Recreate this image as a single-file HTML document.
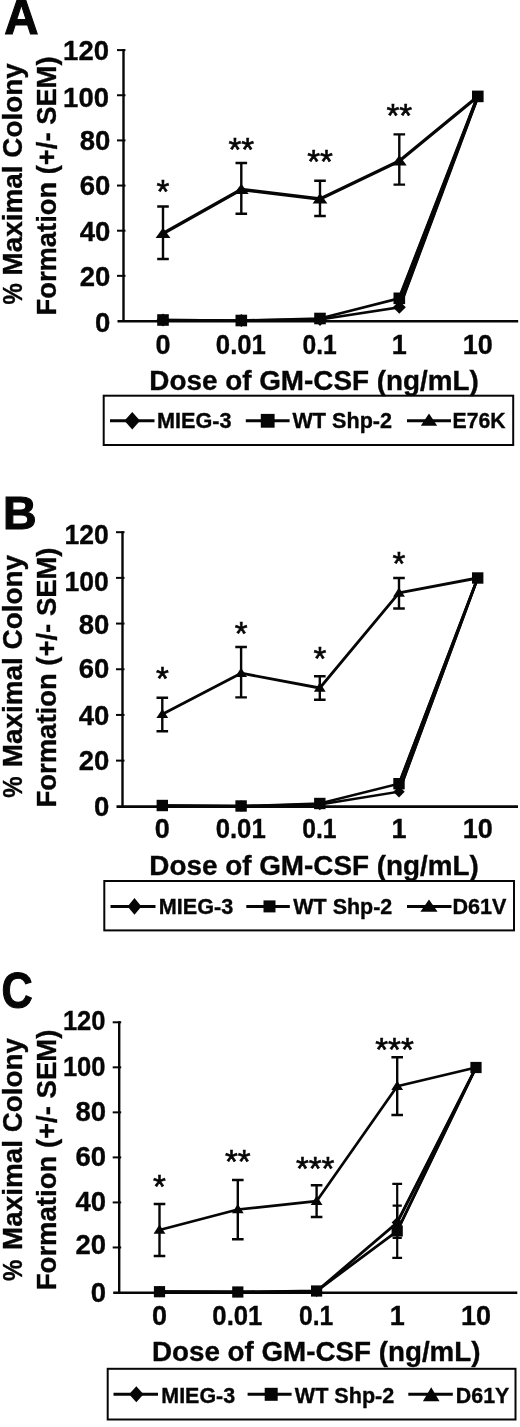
<!DOCTYPE html>
<html><head><meta charset="utf-8"><title>Figure</title>
<style>
html,body{margin:0;padding:0;background:#fff;}
body{width:520px;height:1427px;overflow:hidden;}
svg{display:block;will-change:transform;}
svg text{font-family:"Liberation Sans", sans-serif;font-weight:bold;fill:#060606;stroke:#060606;stroke-width:0.35px;}
</style></head><body>
<svg width="520" height="1427" viewBox="0 0 520 1427" fill="#060606">
<rect x="0" y="0" width="520" height="1427" fill="#fff"/>
<g id="chartA">
<text x="4.2" y="34.2" font-size="49.5" text-anchor="start" textLength="34.3" lengthAdjust="spacingAndGlyphs" style="stroke-width:1.1px">A</text>
<text transform="translate(22.3,304.6) rotate(-90)" font-size="27" textLength="21.3" lengthAdjust="spacingAndGlyphs">%</text>
<text transform="translate(22.3,275.4) rotate(-90)" font-size="27" textLength="212.1" lengthAdjust="spacingAndGlyphs">Maximal Colony</text>
<text transform="translate(56,315.5) rotate(-90)" font-size="27" textLength="259" lengthAdjust="spacingAndGlyphs">Formation (+/- SEM)</text>
<path d="M123.5,49.1 V322" stroke="#060606" stroke-width="2.4" fill="none"/>
<path d="M117.5,321.3 H518.2" stroke="#060606" stroke-width="2.6" fill="none"/>
<text x="110.3" y="332.1" font-size="27.5" text-anchor="end">0</text>
<path d="M117.0,275.85 H125.5" stroke="#060606" stroke-width="2" fill="none"/>
<text x="110.3" y="286.45" font-size="27.5" text-anchor="end">20</text>
<path d="M117.0,230.7 H125.5" stroke="#060606" stroke-width="2" fill="none"/>
<text x="110.3" y="240.6" font-size="27.5" text-anchor="end">40</text>
<path d="M117.0,185.55 H125.5" stroke="#060606" stroke-width="2" fill="none"/>
<text x="110.3" y="195.15" font-size="27.5" text-anchor="end">60</text>
<path d="M117.0,140.4 H125.5" stroke="#060606" stroke-width="2" fill="none"/>
<text x="110.3" y="150.0" font-size="27.5" text-anchor="end">80</text>
<path d="M117.0,95.25 H125.5" stroke="#060606" stroke-width="2" fill="none"/>
<text x="109.0" y="106.6" font-size="27.5" text-anchor="end">100</text>
<path d="M117.0,50.10000000000002 H125.5" stroke="#060606" stroke-width="2" fill="none"/>
<text x="109.0" y="59.7" font-size="27.5" text-anchor="end">120</text>
<text x="163" y="353.9" font-size="27" text-anchor="middle">0</text>
<text x="240.9" y="353.9" font-size="27" text-anchor="middle" textLength="50.1" lengthAdjust="spacingAndGlyphs">0.01</text>
<text x="319.6" y="353.9" font-size="27" text-anchor="middle" textLength="34.3" lengthAdjust="spacingAndGlyphs">0.1</text>
<text x="399.3" y="353.9" font-size="27" text-anchor="middle">1</text>
<text x="477.8" y="353.9" font-size="27" text-anchor="middle">10</text>
<text x="149.3" y="389.6" font-size="27" text-anchor="start" textLength="329.5" lengthAdjust="spacingAndGlyphs">Dose of GM-CSF (ng/mL)</text>
<polyline fill="none" stroke="#060606" stroke-width="2.6" stroke-linejoin="miter" points="163,320 241.3,320.5 320,319.5 399.3,307.3 477.8,96.4"/>
<polyline fill="none" stroke="#060606" stroke-width="2.6" stroke-linejoin="miter" points="163,320 241.3,320.5 320,318.5 399.3,298.3 477.8,96.4"/>
<path d="M399.3,307.3 L477.8,96.4" stroke="#060606" stroke-width="3.3" fill="none"/>
<path d="M399.3,298.3 L477.8,96.4" stroke="#060606" stroke-width="3.3" fill="none"/>
<path d="M156.5,320 L163,313.5 L169.5,320 L163,326.5Z"/>
<path d="M234.8,320.5 L241.3,314.0 L247.8,320.5 L241.3,327.0Z"/>
<path d="M313.5,319.5 L320,313.0 L326.5,319.5 L320,326.0Z"/>
<path d="M392.8,307.3 L399.3,300.8 L405.8,307.3 L399.3,313.8Z"/>
<path d="M472.6,96.4 L477.8,91.2 L483.0,96.4 L477.8,101.60000000000001Z"/>
<rect x="157.2" y="314.2" width="11.6" height="11.6"/>
<rect x="235.5" y="314.7" width="11.6" height="11.6"/>
<rect x="314.2" y="312.7" width="11.6" height="11.6"/>
<rect x="393.5" y="292.5" width="11.6" height="11.6"/>
<rect x="472.0" y="90.60000000000001" width="11.6" height="11.6"/>
<polyline fill="none" stroke="#060606" stroke-width="3.3" stroke-linejoin="round" points="163,233.5 241.3,189.5 320,199 399.3,161 477.8,96.4"/>
<path d="M163,206.5 V259 M157.2,206.5 H168.8 M157.2,259 H168.8" stroke="#060606" stroke-width="2.4" fill="none"/>
<path d="M163,227.7 L170.4,237.9 L155.6,237.9Z"/>
<path d="M241.3,163 V213.8 M235.5,163 H247.10000000000002 M235.5,213.8 H247.10000000000002" stroke="#060606" stroke-width="2.4" fill="none"/>
<path d="M241.3,183.7 L248.70000000000002,193.9 L233.9,193.9Z"/>
<path d="M320,180.8 V216 M314.2,180.8 H325.8 M314.2,216 H325.8" stroke="#060606" stroke-width="2.4" fill="none"/>
<path d="M320,193.2 L327.4,203.4 L312.6,203.4Z"/>
<path d="M399.3,134.4 V184.6 M393.5,134.4 H405.1 M393.5,184.6 H405.1" stroke="#060606" stroke-width="2.4" fill="none"/>
<path d="M399.3,155.2 L406.7,165.4 L391.90000000000003,165.4Z"/>
<text x="163" y="203" font-size="33" text-anchor="middle" style="font-weight:normal;stroke-width:0.6px">*</text>
<text x="241.3" y="160.5" font-size="33" text-anchor="middle" style="font-weight:normal;stroke-width:0.6px">**</text>
<text x="320" y="173" font-size="33" text-anchor="middle" style="font-weight:normal;stroke-width:0.6px">**</text>
<text x="399.3" y="127" font-size="33" text-anchor="middle" style="font-weight:normal;stroke-width:0.6px">**</text>
<rect x="103.7" y="395.7" width="409.50000000000006" height="49.30000000000001" fill="none" stroke="#060606" stroke-width="2"/>
<path d="M110,420.8 H154.5" stroke="#060606" stroke-width="3" fill="none"/>
<path d="M124.45,420.8 L132.25,412.0 L140.05,420.8 L132.25,429.6Z"/>
<path d="M245.8,420.8 H289.6" stroke="#060606" stroke-width="3" fill="none"/>
<rect x="260.80000000000007" y="413.90000000000003" width="13.8" height="13.8"/>
<path d="M407,420.8 H451" stroke="#060606" stroke-width="3" fill="none"/>
<path d="M429.0,413.5 L437.2,425.8 L420.8,425.8Z"/>
<text x="157" y="428" font-size="21.5" text-anchor="start" textLength="74.5" lengthAdjust="spacingAndGlyphs">MIEG-3</text>
<text x="292.5" y="428" font-size="21.5" text-anchor="start" textLength="99.5" lengthAdjust="spacingAndGlyphs">WT Shp-2</text>
<text x="452.5" y="428" font-size="21.5" text-anchor="start" textLength="53" lengthAdjust="spacingAndGlyphs">E76K</text>
</g>
<g id="chartB">
<text x="2.9" y="528.8" font-size="46.5" text-anchor="start" style="stroke-width:1.1px">B</text>
<text transform="translate(22.3,797.7) rotate(-90)" font-size="27" textLength="21.3" lengthAdjust="spacingAndGlyphs">%</text>
<text transform="translate(22.3,767.2) rotate(-90)" font-size="27" textLength="212.3" lengthAdjust="spacingAndGlyphs">Maximal Colony</text>
<text transform="translate(56,807.5) rotate(-90)" font-size="27" textLength="260" lengthAdjust="spacingAndGlyphs">Formation (+/- SEM)</text>
<path d="M122.5,531.2 V807.3" stroke="#060606" stroke-width="2.4" fill="none"/>
<path d="M116.5,806.5999999999999 H518" stroke="#060606" stroke-width="2.6" fill="none"/>
<text x="109.3" y="815.9" font-size="27.5" text-anchor="end">0</text>
<path d="M116.0,760.6166666666667 H124.5" stroke="#060606" stroke-width="2" fill="none"/>
<text x="109.3" y="769.92" font-size="27.5" text-anchor="end">20</text>
<path d="M116.0,714.9333333333333 H124.5" stroke="#060606" stroke-width="2" fill="none"/>
<text x="109.3" y="724.53" font-size="27.5" text-anchor="end">40</text>
<path d="M116.0,669.25 H124.5" stroke="#060606" stroke-width="2" fill="none"/>
<text x="109.3" y="678.25" font-size="27.5" text-anchor="end">60</text>
<path d="M116.0,623.5666666666667 H124.5" stroke="#060606" stroke-width="2" fill="none"/>
<text x="109.3" y="634.17" font-size="27.5" text-anchor="end">80</text>
<path d="M116.0,577.8833333333334 H124.5" stroke="#060606" stroke-width="2" fill="none"/>
<text x="108.7" y="590.88" font-size="27.5" text-anchor="end" textLength="44.3" lengthAdjust="spacingAndGlyphs">100</text>
<path d="M116.0,532.2 H124.5" stroke="#060606" stroke-width="2" fill="none"/>
<text x="108.7" y="543.8" font-size="27.5" text-anchor="end" textLength="44.3" lengthAdjust="spacingAndGlyphs">120</text>
<text x="162.3" y="837.8" font-size="27" text-anchor="middle">0</text>
<text x="240.7" y="837.8" font-size="27" text-anchor="middle" textLength="50.1" lengthAdjust="spacingAndGlyphs">0.01</text>
<text x="319.40000000000003" y="837.8" font-size="27" text-anchor="middle" textLength="34.3" lengthAdjust="spacingAndGlyphs">0.1</text>
<text x="399" y="837.8" font-size="27" text-anchor="middle">1</text>
<text x="477.7" y="837.8" font-size="27" text-anchor="middle">10</text>
<text x="149.3" y="874.6" font-size="27" text-anchor="start" textLength="329.5" lengthAdjust="spacingAndGlyphs">Dose of GM-CSF (ng/mL)</text>
<polyline fill="none" stroke="#060606" stroke-width="2.4" stroke-linejoin="miter" points="162.3,805.5 241.1,806 319.8,804.5 399,791.7 477.7,578"/>
<polyline fill="none" stroke="#060606" stroke-width="2.4" stroke-linejoin="miter" points="162.3,805.5 241.1,806 319.8,803.5 399,783.7 477.7,578"/>
<path d="M399,791.7 L477.7,578" stroke="#060606" stroke-width="2.7" fill="none"/>
<path d="M399,783.7 L477.7,578" stroke="#060606" stroke-width="2.7" fill="none"/>
<path d="M156.60000000000002,805.5 L162.3,799.8 L168.0,805.5 L162.3,811.2Z"/>
<path d="M235.4,806 L241.1,800.3 L246.79999999999998,806 L241.1,811.7Z"/>
<path d="M314.1,804.5 L319.8,798.8 L325.5,804.5 L319.8,810.2Z"/>
<path d="M393.3,791.7 L399,786.0 L404.7,791.7 L399,797.4000000000001Z"/>
<path d="M472.5,578 L477.7,572.8 L482.9,578 L477.7,583.2Z"/>
<rect x="156.60000000000002" y="799.8" width="11.4" height="11.4"/>
<rect x="235.4" y="800.3" width="11.4" height="11.4"/>
<rect x="314.1" y="797.8" width="11.4" height="11.4"/>
<rect x="393.3" y="778.0" width="11.4" height="11.4"/>
<rect x="472.0" y="572.3" width="11.4" height="11.4"/>
<polyline fill="none" stroke="#060606" stroke-width="2.8" stroke-linejoin="round" points="162.3,714.3 241.1,673.2 319.8,688 399,592.9 477.7,578"/>
<path d="M162.3,697.8 V731.2 M156.5,697.8 H168.10000000000002 M156.5,731.2 H168.10000000000002" stroke="#060606" stroke-width="2.4" fill="none"/>
<path d="M162.3,708.9 L168.20000000000002,718.0999999999999 L156.4,718.0999999999999Z"/>
<path d="M241.1,647 V697.4 M235.29999999999998,647 H246.9 M235.29999999999998,697.4 H246.9" stroke="#060606" stroke-width="2.4" fill="none"/>
<path d="M241.1,667.8000000000001 L247.0,677.0 L235.2,677.0Z"/>
<path d="M319.8,676.2 V699.7 M314.0,676.2 H325.6 M314.0,699.7 H325.6" stroke="#060606" stroke-width="2.4" fill="none"/>
<path d="M319.8,682.6 L325.7,691.8 L313.90000000000003,691.8Z"/>
<path d="M399,578 V608.5 M393.2,578 H404.8 M393.2,608.5 H404.8" stroke="#060606" stroke-width="2.4" fill="none"/>
<path d="M399,587.5 L404.9,596.6999999999999 L393.1,596.6999999999999Z"/>
<text x="162.3" y="690" font-size="33" text-anchor="middle" style="font-weight:normal;stroke-width:0.6px">*</text>
<text x="241.1" y="644.5" font-size="33" text-anchor="middle" style="font-weight:normal;stroke-width:0.6px">*</text>
<text x="319.8" y="670" font-size="33" text-anchor="middle" style="font-weight:normal;stroke-width:0.6px">*</text>
<text x="399" y="574.5" font-size="33" text-anchor="middle" style="font-weight:normal;stroke-width:0.6px">*</text>
<rect x="104.3" y="881" width="409.7" height="49.39999999999998" fill="none" stroke="#060606" stroke-width="2"/>
<path d="M110.5,906.4 H155.5" stroke="#060606" stroke-width="3" fill="none"/>
<path d="M127.6,906.4 L134.5,898.1 L141.4,906.4 L134.5,914.6999999999999Z"/>
<path d="M246.3,906.4 H289.8" stroke="#060606" stroke-width="3" fill="none"/>
<rect x="263.5" y="900.4" width="12.0" height="12.0"/>
<path d="M407,906.4 H451.5" stroke="#060606" stroke-width="3" fill="none"/>
<path d="M429,899.4 L437.6,911.8 L420.4,911.8Z"/>
<text x="158.8" y="913.6" font-size="21.5" text-anchor="start" textLength="74.5" lengthAdjust="spacingAndGlyphs">MIEG-3</text>
<text x="293.3" y="913.6" font-size="21.5" text-anchor="start" textLength="99" lengthAdjust="spacingAndGlyphs">WT Shp-2</text>
<text x="452.5" y="913.6" font-size="21.5" text-anchor="start" textLength="54" lengthAdjust="spacingAndGlyphs">D61V</text>
</g>
<g id="chartC">
<text x="1.5" y="1008.3" font-size="49.2" text-anchor="start" textLength="31.2" lengthAdjust="spacingAndGlyphs" style="stroke-width:1.1px">C</text>
<text transform="translate(22.3,1281.1) rotate(-90)" font-size="27" textLength="21.3" lengthAdjust="spacingAndGlyphs">%</text>
<text transform="translate(22.3,1249.9) rotate(-90)" font-size="27" textLength="211.9" lengthAdjust="spacingAndGlyphs">Maximal Colony</text>
<text transform="translate(56,1290.2) rotate(-90)" font-size="27" textLength="260.5" lengthAdjust="spacingAndGlyphs">Formation (+/- SEM)</text>
<path d="M119.2,1021.3 V1293.5" stroke="#060606" stroke-width="2.4" fill="none"/>
<path d="M113.2,1292.8 H517.3" stroke="#060606" stroke-width="2.6" fill="none"/>
<text x="106.0" y="1301.6" font-size="27.5" text-anchor="end">0</text>
<path d="M112.7,1247.4666666666667 H121.2" stroke="#060606" stroke-width="2" fill="none"/>
<text x="106.0" y="1254.47" font-size="27.5" text-anchor="end">20</text>
<path d="M112.7,1202.4333333333334 H121.2" stroke="#060606" stroke-width="2" fill="none"/>
<text x="106.0" y="1211.13" font-size="27.5" text-anchor="end">40</text>
<path d="M112.7,1157.4 H121.2" stroke="#060606" stroke-width="2" fill="none"/>
<text x="106.0" y="1166.0" font-size="27.5" text-anchor="end">60</text>
<path d="M112.7,1112.3666666666666 H121.2" stroke="#060606" stroke-width="2" fill="none"/>
<text x="106.0" y="1120.97" font-size="27.5" text-anchor="end">80</text>
<path d="M112.7,1067.3333333333333 H121.2" stroke="#060606" stroke-width="2" fill="none"/>
<text x="105.60000000000001" y="1076.03" font-size="27.5" text-anchor="end" textLength="42.7" lengthAdjust="spacingAndGlyphs">100</text>
<path d="M112.7,1022.3 H121.2" stroke="#060606" stroke-width="2" fill="none"/>
<text x="105.60000000000001" y="1030.2" font-size="27.5" text-anchor="end" textLength="42.7" lengthAdjust="spacingAndGlyphs">120</text>
<text x="159.5" y="1324.7" font-size="27" text-anchor="middle">0</text>
<text x="237.4" y="1324.7" font-size="27" text-anchor="middle" textLength="50.1" lengthAdjust="spacingAndGlyphs">0.01</text>
<text x="316.20000000000005" y="1324.7" font-size="27" text-anchor="middle" textLength="34.3" lengthAdjust="spacingAndGlyphs">0.1</text>
<text x="397.2" y="1324.7" font-size="27" text-anchor="middle">1</text>
<text x="476" y="1324.7" font-size="27" text-anchor="middle">10</text>
<text x="152" y="1361" font-size="27" text-anchor="start" textLength="328.5" lengthAdjust="spacingAndGlyphs">Dose of GM-CSF (ng/mL)</text>
<polyline fill="none" stroke="#060606" stroke-width="2.8" stroke-linejoin="miter" points="159.5,1291.7 237.8,1292 316.6,1291.3 397.2,1222.5 476,1067.5"/>
<polyline fill="none" stroke="#060606" stroke-width="2.8" stroke-linejoin="miter" points="159.5,1291.7 237.8,1292 316.6,1291 397.2,1231 476,1067.5"/>
<path d="M397.2,1222.5 L476,1067.5" stroke="#060606" stroke-width="2.2" fill="none"/>
<path d="M397.2,1231 L476,1067.5" stroke="#060606" stroke-width="2.2" fill="none"/>
<path d="M397.2,1183.8 V1257.8 M392.3,1183.8 H402.09999999999997 M392.3,1257.8 H402.09999999999997" stroke="#060606" stroke-width="2.2" fill="none"/>
<path d="M397.2,1205.6 V1238 M392.59999999999997,1205.6 H401.8 M392.59999999999997,1238 H401.8" stroke="#060606" stroke-width="2.2" fill="none"/>
<path d="M153.9,1291.7 L159.5,1286.1000000000001 L165.1,1291.7 L159.5,1297.3Z"/>
<path d="M232.20000000000002,1292 L237.8,1286.4 L243.4,1292 L237.8,1297.6Z"/>
<path d="M311.0,1291.3 L316.6,1285.7 L322.20000000000005,1291.3 L316.6,1296.8999999999999Z"/>
<path d="M391.59999999999997,1222.5 L397.2,1216.9 L402.8,1222.5 L397.2,1228.1Z"/>
<path d="M470.8,1067.5 L476,1062.3 L481.2,1067.5 L476,1072.7Z"/>
<rect x="153.9" y="1286.1000000000001" width="11.2" height="11.2"/>
<rect x="232.20000000000002" y="1286.4" width="11.2" height="11.2"/>
<rect x="311.0" y="1285.4" width="11.2" height="11.2"/>
<rect x="391.59999999999997" y="1225.4" width="11.2" height="11.2"/>
<rect x="470.4" y="1061.9" width="11.2" height="11.2"/>
<polyline fill="none" stroke="#060606" stroke-width="2.7" stroke-linejoin="round" points="159.5,1230 237.8,1209.5 316.6,1201.2 397.2,1086.2 476,1067.5"/>
<path d="M159.5,1204 V1256 M153.7,1204 H165.3 M153.7,1256 H165.3" stroke="#060606" stroke-width="2.4" fill="none"/>
<path d="M159.5,1224.6 L165.4,1233.8 L153.6,1233.8Z"/>
<path d="M237.8,1180 V1239.2 M232.0,1180 H243.60000000000002 M232.0,1239.2 H243.60000000000002" stroke="#060606" stroke-width="2.4" fill="none"/>
<path d="M237.8,1204.1 L243.70000000000002,1213.3 L231.9,1213.3Z"/>
<path d="M316.6,1185.2 V1217 M310.8,1185.2 H322.40000000000003 M310.8,1217 H322.40000000000003" stroke="#060606" stroke-width="2.4" fill="none"/>
<path d="M316.6,1195.8 L322.5,1205.0 L310.70000000000005,1205.0Z"/>
<path d="M397.2,1057.2 V1115 M391.4,1057.2 H403.0 M391.4,1115 H403.0" stroke="#060606" stroke-width="2.4" fill="none"/>
<path d="M397.2,1080.8 L403.09999999999997,1090.0 L391.3,1090.0Z"/>
<text x="159.5" y="1198.3" font-size="33" text-anchor="middle" style="font-weight:normal;stroke-width:0.6px">*</text>
<text x="237.8" y="1173" font-size="33" text-anchor="middle" style="font-weight:normal;stroke-width:0.6px">**</text>
<text x="315.2" y="1180" font-size="33" text-anchor="middle" style="font-weight:normal;stroke-width:0.6px">***</text>
<text x="394.5" y="1060.5" font-size="33" text-anchor="middle" style="font-weight:normal;stroke-width:0.6px">***</text>
<rect x="107.7" y="1368.8" width="407.8" height="50.700000000000045" fill="none" stroke="#060606" stroke-width="2"/>
<path d="M113.5,1394.3 H158" stroke="#060606" stroke-width="3" fill="none"/>
<path d="M129.10000000000002,1394.3 L136.3,1386.3 L143.5,1394.3 L136.3,1402.3Z"/>
<path d="M247.6,1394.3 H291.6" stroke="#060606" stroke-width="3" fill="none"/>
<rect x="264.7" y="1387.8" width="13.0" height="13.0"/>
<path d="M408.3,1394.3 H452.8" stroke="#060606" stroke-width="3" fill="none"/>
<path d="M431.2,1387.3 L439.5,1401.3 L422.9,1401.3Z"/>
<text x="161.3" y="1402.6" font-size="21.5" text-anchor="start" textLength="73.8" lengthAdjust="spacingAndGlyphs">MIEG-3</text>
<text x="294.8" y="1402.6" font-size="21.5" text-anchor="start" textLength="99.5" lengthAdjust="spacingAndGlyphs">WT Shp-2</text>
<text x="455.8" y="1402.6" font-size="21.5" text-anchor="start" textLength="53.5" lengthAdjust="spacingAndGlyphs">D61Y</text>
</g>
</svg>
</body></html>
